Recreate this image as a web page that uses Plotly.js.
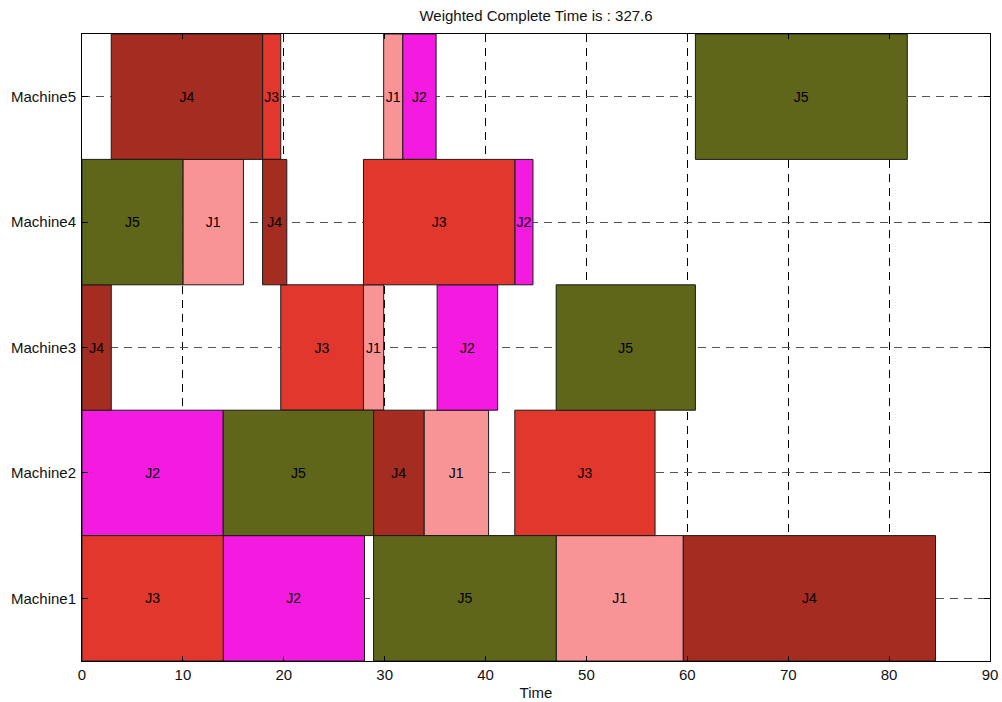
<!DOCTYPE html>
<html>
<head>
<meta charset="utf-8">
<script src="https://cdn.plot.ly/plotly-3.0.1.min.js"></script>
<style>
  html, body { margin: 0; padding: 0; background: #ffffff; }
  #chart { width: 1002px; height: 702px; }
</style>
</head>
<body>
<div id="chart"></div>
<script>
// Machines from bottom row to top row
const machines = ['Machine1', 'Machine2', 'Machine3', 'Machine4', 'Machine5'];
const jobs = ['J1', 'J2', 'J3', 'J4', 'J5'];
const jobColors = ['#f99496', '#f21bdf', '#e2372c', '#a52c21', '#5f661a'];

// Start / end times of each job on Machine1..Machine5
const startJ1 = [47.0, 33.9, 27.9, 10.0, 29.9];
const endJ1   = [59.6, 40.3, 29.9, 16.0, 31.8];
const startJ2 = [14.0, 0.0, 35.2, 42.9, 31.8];
const endJ2   = [28.0, 14.0, 41.2, 44.7, 35.1];
const startJ3 = [0.0, 42.9, 19.7, 27.9, 17.9];
const endJ3   = [14.0, 56.8, 27.9, 42.9, 19.7];
const startJ4 = [59.6, 28.9, 0.0, 17.9, 2.9];
const endJ4   = [84.6, 33.9, 2.9, 20.3, 17.9];
const startJ5 = [28.9, 14.0, 47.0, 0.0, 60.8];
const endJ5   = [47.0, 28.9, 60.8, 10.0, 81.8];

const weightedCompleteTime = 327.6;
const xTicks = [0, 10, 20, 30, 40, 50, 60, 70, 80, 90];

const starts = [startJ1, startJ2, startJ3, startJ4, startJ5];
const ends = [endJ1, endJ2, endJ3, endJ4, endJ5];

const fontFamily = '"Liberation Sans", Arial, Helvetica, sans-serif';
const fontSize = 15;

const traces = jobs.map((job, j) => ({
  type: 'bar',
  orientation: 'h',
  name: job,
  y: machines,
  base: starts[j],
  x: ends[j].map((e, i) => e - starts[j][i]),
  width: 1,
  marker: { color: jobColors[j], line: { color: '#1a1a1a', width: 1 } },
  text: machines.map(() => job),
  textposition: 'inside',
  insidetextanchor: 'middle',
  constraintext: 'none',
  textangle: 0,
  textfont: { family: fontFamily, size: 14, color: '#000000' },
  cliponaxis: false,
  hoverinfo: 'skip'
}));

const layout = {
  width: 1002,
  height: 702,
  margin: { l: 82, r: 12, t: 34, b: 41 },
  paper_bgcolor: '#ffffff',
  plot_bgcolor: '#ffffff',
  showlegend: false,
  barmode: 'overlay',
  font: { family: fontFamily, size: fontSize, color: '#111111' },
  title: {
    text: 'Weighted Complete Time is : ' + weightedCompleteTime,
    font: { family: fontFamily, size: fontSize, color: '#111111' },
    x: 0.5, xref: 'paper', xanchor: 'center',
    y: 1 - 16 / 702, yref: 'container', yanchor: 'middle'
  },
  xaxis: {
    range: [0, 90],
    tickvals: xTicks,
    ticktext: xTicks.map(String),
    ticks: 'inside',
    ticklen: 5,
    tickcolor: '#000000',
    showline: true,
    linecolor: '#000000',
    linewidth: 1,
    mirror: 'ticks',
    showgrid: true,
    gridcolor: '#000000',
    gridwidth: 1,
    griddash: '8px,6px',
    zeroline: false,
    tickfont: { family: fontFamily, size: fontSize, color: '#111111' },
    title: { text: 'Time', font: { family: fontFamily, size: fontSize, color: '#111111' }, standoff: 5 },
    fixedrange: true
  },
  yaxis: {
    type: 'category',
    categoryorder: 'array',
    categoryarray: machines,
    range: [-0.5, 4.5],
    ticks: 'inside',
    ticklen: 6,
    tickcolor: '#000000',
    showline: true,
    linecolor: '#000000',
    linewidth: 1,
    mirror: 'ticks',
    showgrid: true,
    gridcolor: '#555555',
    gridwidth: 1,
    griddash: '8px,6px',
    zeroline: false,
    tickfont: { family: fontFamily, size: fontSize, color: '#111111' },
    ticklabelstandoff: 2,
    fixedrange: true
  },
  hovermode: false
};

Plotly.newPlot('chart', traces, layout, { displayModeBar: false, staticPlot: true });
</script>
</body>
</html>
